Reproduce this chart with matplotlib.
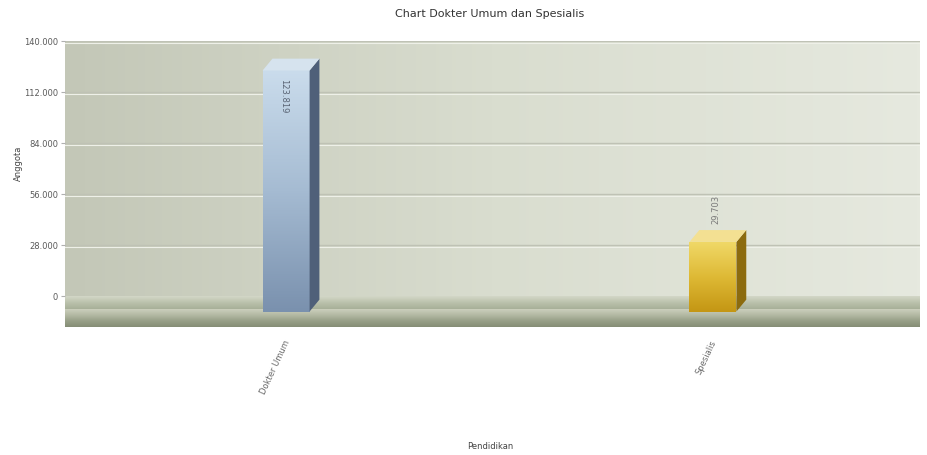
import numpy as np
import matplotlib
matplotlib.use("Agg")
import matplotlib.pyplot as plt
from matplotlib.patches import Polygon
from matplotlib.colors import LinearSegmentedColormap

categories = ["Dokter Umum", "Spesialis"]
values = [123819, 29703]
value_labels = ["123.819", "29.703"]
yticks = [0, 28000, 56000, 84000, 112000, 140000]
ytick_labels = ["0", "28.000", "56.000", "84.000", "112.000", "140.000"]
title = "Chart Dokter Umum dan Spesialis"
xlabel = "Pendidikan"
ylabel = "Anggota"

W, H = 927, 456
fig = plt.figure(figsize=(W / 100, H / 100), dpi=100)
fig.patch.set_facecolor("white")

left_px, right_px = 65, 920
top_px, bot_px = 42, 328
ax = fig.add_axes([left_px / W, 1 - bot_px / H, (right_px - left_px) / W, (bot_px - top_px) / H])
ymin = -(bot_px - 297) / 255 * 140000
XL = (-0.518, 1.485)
ax.set_xlim(*XL)
ax.set_ylim(ymin, 140000)

# wall gradient background
wall = LinearSegmentedColormap.from_list("wall", ["#c3c7b7", "#d9ddcf", "#e6e9df"])
grad = np.linspace(0, 1, 256).reshape(1, -1)
ax.imshow(grad, cmap=wall, aspect="auto", extent=[XL[0], XL[1], 0, 140000], zorder=0)

# gridlines
for t in yticks[1:]:
    ax.axhline(t, color="#bfc2b5", lw=1.0, zorder=1)
    ax.axhline(t - 900, color="#eef0e8", lw=0.8, zorder=1)

# floor: top surface and front face (imshow origin upper: first colour at top)
ftop = ymin * 0.45
ax.imshow(np.linspace(0, 1, 64).reshape(-1, 1), cmap=LinearSegmentedColormap.from_list(
    "ft", ["#d3d7c7", "#b9c0aa", "#a5ad95"]), aspect="auto",
          extent=[XL[0], XL[1], ftop, 0], zorder=1)
ax.imshow(np.linspace(0, 1, 64).reshape(-1, 1), cmap=LinearSegmentedColormap.from_list(
    "ff", ["#cbcfbc", "#b3b9a3", "#979f87", "#858d76"]), aspect="auto",
          extent=[XL[0], XL[1], ymin, ftop], zorder=1)

bar_w = 0.11
dx = 0.023
dy = 6500
x = np.arange(len(categories))
bar_cmaps = [
    LinearSegmentedColormap.from_list("b", ["#7a91ae", "#a5bbd2", "#cadcec"]),
    LinearSegmentedColormap.from_list("g", ["#c49614", "#deb935", "#f0d867"]),
]
side_cols = ["#4f6079", "#8c6b0e"]
top_cols = ["#d6e3ee", "#f3e092"]
for i, v in enumerate(values):
    x0 = x[i] - bar_w / 2
    x1 = x[i] + bar_w / 2
    yb = ymin * 0.5
    ax.imshow(np.linspace(0, 1, 128).reshape(-1, 1), cmap=bar_cmaps[i], origin="lower",
              aspect="auto", extent=[x0, x1, yb, v], zorder=3)
    ax.add_patch(Polygon([[x1, yb], [x1 + dx, yb + dy], [x1 + dx, v + dy], [x1, v]],
                         closed=True, facecolor=side_cols[i], edgecolor="none", zorder=3))
    ax.add_patch(Polygon([[x0, v], [x0 + dx, v + dy], [x1 + dx, v + dy], [x1, v]],
                         closed=True, facecolor=top_cols[i], edgecolor="none", zorder=3))

ax.text(x[0] - 0.005, values[0] - 4000, value_labels[0], rotation=270, ha="center", va="top",
        fontsize=6, color="#5a6474", zorder=4)
ax.text(x[1] + 0.008, values[1] + dy + 4000, value_labels[1], rotation=90, ha="center", va="bottom",
        fontsize=6, color="#7a7a7a", zorder=4)

ax.set_yticks(yticks)
ax.set_yticklabels(ytick_labels, fontsize=6, color="#5a5a5a")
ax.set_xticks(x)
ax.set_xticklabels([])
ax.tick_params(axis="y", length=3, color="#b0b0b0", pad=2)
ax.tick_params(axis="x", length=0)
for s in ax.spines.values():
    s.set_visible(False)

for i, c in enumerate(categories):
    ax.annotate(c, xy=(x[i], ymin), xytext=(4, -8), textcoords="offset points",
                rotation=65, ha="right", va="top", fontsize=6, color="#6a6a6a",
                annotation_clip=False)

fig.text(490 / W, 1 - 14 / H, title, ha="center", va="center", fontsize=8, color="#333333")
fig.text(490 / W, 1 - 447 / H, xlabel, ha="center", va="center", fontsize=6, color="#444444")
fig.text(18 / W, 1 - 163 / H, ylabel, ha="center", va="center", rotation=90, fontsize=6,
         color="#444444")

fig.savefig("out.png", dpi=100)
